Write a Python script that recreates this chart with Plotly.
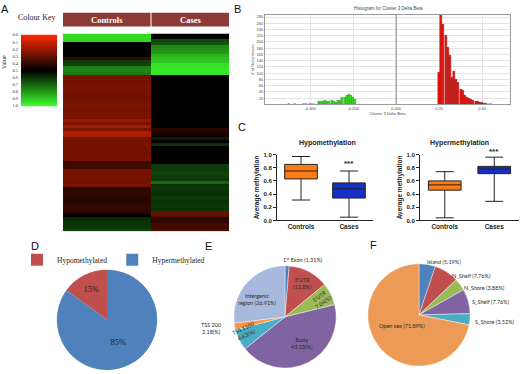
import plotly.graph_objects as go

W, H = 520, 374


def px(x):
    return x / W


def py(y):
    return 1 - y / H


SANS = "Liberation Sans"
SERIF = "Liberation Serif"

# ---------------- Panel A : heatmap (0 = red, 0.5 = black, 1 = green) ----------------
heat_columns = ["Controls", "Cases"]
controls_rows = ([0.93, 0.93, 0.92] + [0.5, 0.5, 0.49, 0.5, 0.5] + [0.4] + [0.62, 0.63] + [0.75, 0.76, 0.74]
                 + [0.27, 0.27, 0.28, 0.27, 0.26, 0.27, 0.27, 0.28, 0.27, 0.27, 0.26, 0.27, 0.27, 0.27, 0.26]
                 + [0.2, 0.27, 0.17, 0.26, 0.16, 0.16]
                 + [0.27, 0.27, 0.26, 0.27, 0.27, 0.28, 0.27, 0.27] + [0.38, 0.37, 0.38]
                 + [0.27, 0.27, 0.26, 0.27, 0.27, 0.27]
                 + [0.42, 0.41, 0.4, 0.42, 0.43, 0.41, 0.4, 0.41, 0.42] + [0.5] + [0.58, 0.6, 0.6, 0.61, 0.62])
cases_rows = ([0.5, 0.5] + [0.64, 0.66] + [0.77, 0.78, 0.8] + [0.86, 0.88, 0.89] + [0.94, 0.95, 0.96, 0.95]
              + [0.5] * 18 + [0.42] + [0.45, 0.46] + [0.56, 0.5, 0.6] + [0.5] * 6
              + [0.62, 0.61, 0.62, 0.63, 0.62, 0.61] + [0.7]
              + [0.6, 0.61, 0.6, 0.59, 0.61, 0.6, 0.6, 0.61, 0.6] + [0.3, 0.31] + [0.42, 0.41] + [0.36, 0.37, 0.36])
probe_rows = list(range(len(controls_rows)))
key_ticks = [0.0, 0.1, 0.2, 0.3, 0.4, 0.5, 0.6, 0.7, 0.8, 0.9, 1.0]
key_levels = [i / 100 for i in range(101)]

# ---------------- Panel B : histogram of delta beta ----------------
green_bins = [-0.36, -0.35, -0.34, -0.33, -0.32, -0.31, -0.30, -0.29, -0.28, -0.27, -0.26, -0.25,
              -0.24, -0.23, -0.22, -0.21, -0.20, -0.19]
green_counts = [8, 10, 10, 11, 9, 10, 11, 9, 6, 12, 13, 21, 23, 27, 33, 28, 21, 14]
red_bins = [0.20, 0.21, 0.22, 0.23, 0.24, 0.25, 0.26, 0.27, 0.28, 0.29, 0.30, 0.31, 0.32, 0.33,
            0.34, 0.35, 0.36, 0.37, 0.38, 0.39, 0.40, 0.41, 0.42]
red_counts = [102, 295, 257, 220, 181, 158, 85, 105, 79, 69, 48, 43, 27, 22, 19, 15, 11, 9, 8, 6, 5, 4, 3]
tail_bins = [-0.50, -0.49, -0.47, -0.44, -0.43, -0.42, -0.40, -0.39, -0.38, 0.43, 0.44, 0.46]
tail_counts = [2, 1, 2, 1, 2, 2, 2, 3, 2, 2, 2, 1]
hist_xticks = [-0.4, -0.2, 0.0, 0.2, 0.4]
hist_xticktext = ["-0.400", "-0.200", "0.000", "0.20", "0.40"]
hist_yticks = [20, 40, 60, 80, 100, 120, 140, 160, 180, 200, 220, 240, 260, 280]

# ---------------- Panel C : box plots ----------------
box_groups = ["Controls", "Cases"]
hypo_q1 = [0.63, 0.34]
hypo_med = [0.75, 0.48]
hypo_q3 = [0.85, 0.57]
hypo_lo = [0.31, 0.05]
hypo_hi = [0.97, 0.75]
hyper_q1 = [0.46, 0.71]
hyper_med = [0.54, 0.78]
hyper_q3 = [0.60, 0.82]
hyper_lo = [0.04, 0.29]
hyper_hi = [0.74, 0.96]
box_ticks = [0.0, 0.2, 0.4, 0.6, 0.8, 1.0]

# ---------------- Panels D, E, F : pies ----------------
d_labels = ["Hypomethylated", "Hypermethylated"]
d_values = [15, 85]
e_labels = ["1st Exon", "3'UTR", "5'UTR", "Body", "TSS 1500", "TSS 200", "Intergenic region"]
e_values = [1.31, 12.8, 7.04, 43.13, 6.63, 2.18, 26.91]
e_text = ["1<sup>st</sup> Exon (1.31%)", "3'UTR<br>(12.8%)", "5'UTR<br>7.04(%)", "Body<br>43.13(%)",
          "TSS 1500<br>6.63(%)", "TSS 200<br>2.18(%)", "Intergenic<br>region (26.91%)"]
f_labels = ["Island", "N_Shelf", "N_Shore", "S_Shelf", "S_Shore", "Open sea"]
f_values = [5.19, 7.76, 3.88, 7.76, 3.52, 71.89]

office = ["#4f81bd", "#c0504d", "#9bbb59", "#8064a2", "#4bacc6", "#f79646", "#a7badd"]

fig = go.Figure()

# heatmap columns
hm_scale = [[0, "#ff2a00"], [0.5, "#000000"], [1, "#3cff2a"]]
fig.add_trace(go.Heatmap(z=[[v] for v in controls_rows], x=[heat_columns[0]], y=probe_rows,
                         colorscale=hm_scale, zmin=0, zmax=1, showscale=False,
                         xaxis="x", yaxis="y", hoverinfo="skip"))
fig.add_trace(go.Heatmap(z=[[v] for v in cases_rows], x=[heat_columns[1]], y=probe_rows,
                         colorscale=hm_scale, zmin=0, zmax=1, showscale=False,
                         xaxis="x2", yaxis="y", hoverinfo="skip"))
# colour key
fig.add_trace(go.Heatmap(z=[[v] for v in key_levels], x=[0], y=key_levels,
                         colorscale=hm_scale, zmin=0, zmax=1, showscale=False,
                         xaxis="x3", yaxis="y3", hoverinfo="skip"))

# histogram
fig.add_trace(go.Bar(x=green_bins, y=green_counts, width=0.0095, xaxis="x4", yaxis="y4",
                     marker=dict(color="#3ee02a", line=dict(color="#1a7a10", width=0.4)), showlegend=False))
fig.add_trace(go.Bar(x=red_bins, y=red_counts, width=0.0095, xaxis="x4", yaxis="y4",
                     marker=dict(color="#e8190f", line=dict(color="#8a0000", width=0.4)), showlegend=False))
fig.add_trace(go.Bar(x=tail_bins, y=tail_counts, width=0.008, xaxis="x4", yaxis="y4",
                     marker=dict(color="#222222"), showlegend=False))

# box plots
box_colors = ["#fb7d14", "#1530c8"]
for i, g in enumerate(box_groups):
    fig.add_trace(go.Box(x=[g], q1=[hypo_q1[i]], median=[hypo_med[i]], q3=[hypo_q3[i]],
                         lowerfence=[hypo_lo[i]], upperfence=[hypo_hi[i]],
                         fillcolor=box_colors[i], line=dict(color="#222222", width=1),
                         width=0.68, whiskerwidth=0.55, xaxis="x5", yaxis="y5", showlegend=False))
    fig.add_trace(go.Box(x=[g], q1=[hyper_q1[i]], median=[hyper_med[i]], q3=[hyper_q3[i]],
                         lowerfence=[hyper_lo[i]], upperfence=[hyper_hi[i]],
                         fillcolor=box_colors[i], line=dict(color="#222222", width=1),
                         width=0.66, whiskerwidth=0.55, xaxis="x6", yaxis="y6", showlegend=False))

# pies
fig.add_trace(go.Pie(labels=d_labels, values=d_values, sort=False, direction="clockwise",
                     rotation=-360 * d_values[0] / sum(d_values),
                     marker=dict(colors=["#c0504d", "#4f81bd"]),
                     textinfo="percent", texttemplate="%{percent:.0%}", textposition="inside",
                     insidetextorientation="horizontal",
                     textfont=dict(family=SERIF, size=8.5, color="#222222"),
                     domain=dict(x=[px(55), px(159)], y=[py(373), py(271)]), showlegend=True))
fig.add_trace(go.Pie(labels=e_labels, values=e_values, sort=False, direction="clockwise",
                     marker=dict(colors=office, line=dict(color="white", width=0.4)), textinfo="none",
                     domain=dict(x=[px(233), px(337)], y=[py(371), py(267)]), showlegend=False))
fig.add_trace(go.Pie(labels=f_labels, values=f_values, sort=False, direction="clockwise",
                     marker=dict(colors=office[:5] + ["#ec9a55"], line=dict(color="white", width=0.4)),
                     textinfo="none",
                     domain=dict(x=[px(367), px(471)], y=[py(369), py(265)]), showlegend=False))

annotations = []


def ann(text, x, y, size, family=SANS, color="#222222", weight="normal", xanchor="center",
        angle=0, xref="paper", yref="paper"):
    annotations.append(dict(text=text, x=x, y=y, xref=xref, yref=yref, showarrow=False,
                            xanchor=xanchor, yanchor="middle", textangle=angle,
                            font=dict(family=family, size=size, color=color, weight=weight)))


# panel letters
for letter, lx, ly in [("A", 5, 6), ("B", 237, 6), ("C", 242, 126), ("D", 35, 247), ("E", 208, 247),
                       ("F", 373, 246)]:
    ann(letter, px(lx), py(ly), 11, color="#111111")

# panel A texts
ann("Colour Key", px(37), py(15), 8, family=SERIF)
ann("Value", px(4), py(60), 6, family=SERIF, angle=-90)
ann(heat_columns[0], px(107), py(17), 8.5, family=SERIF, color="white", weight="bold")
ann(heat_columns[1], px(190), py(17), 8.5, family=SERIF, color="white", weight="bold")

# panel B title
ann("Histogram for Cluster 3 Delta Beta", px(388), py(6), 4.5, color="#444444")

# panel C titles and stars
ann("Hypomethylation", px(327), py(142), 7, weight="bold")
ann("Hypermethylation", px(459), py(142), 7, weight="bold")
ann("***", 0.75, 0.86, 8, weight="bold", xref="x5 domain", yref="y5 domain")
ann("***", 0.75, 1.04, 8, weight="bold", xref="x6 domain", yref="y6 domain")

# panel E labels
e_pos = [(303, 261, 0), (302, 285, 0), (321, 301, -35), (302, 346, 0), (245, 334, -25), (211, 331, 0),
         (257, 301, 0)]
for t, (ex, ey, ea) in zip(e_text, e_pos):
    ann(t, px(ex), py(ey), 5.5, family="Lato", color="#2b2b2b", angle=ea)

# panel F labels
f_pos = [(425, 263), (450, 277), (462, 290), (470, 304), (473, 324)]
for name, val, (fx, fy) in zip(f_labels[:5], f_values[:5], f_pos):
    ann(f"{name} ({val:.2f}%)", px(fx), py(fy), 5.5, family="Lato", color="#2b2b2b", xanchor="left")
ann(f"{f_labels[5]} ({f_values[5]:.2f}%)", px(402), py(328), 5.5, family="Lato", color="#2b2b2b")

shapes = [
    dict(type="rect", xref="paper", yref="paper", x0=px(63), x1=px(150.5), y0=py(24), y1=py(10),
         fillcolor="#8b3a35", line=dict(width=0)),
    dict(type="rect", xref="paper", yref="paper", x0=px(151.5), x1=px(229), y0=py(24), y1=py(10),
         fillcolor="#8b3a35", line=dict(width=0)),
    dict(type="line", xref="x4", yref="y4 domain", x0=0, x1=0, y0=0, y1=1,
         line=dict(color="#8a8a8a", width=1)),
]

hidden = dict(visible=False)
box_x = dict(type="category", range=[-0.5, 1.5], showline=True, linecolor="#222222", linewidth=1,
             ticks="", showgrid=False, zeroline=False,
             tickfont=dict(family=SANS, size=6.5, color="#222222", weight="bold"))


def box_y(anchor):
    return dict(range=[0, 1.0], tickvals=box_ticks, ticktext=[f"{v:.1f}" for v in box_ticks],
                ticks="outside", ticklen=3, tickwidth=1, tickcolor="#222222",
                showline=True, linecolor="#222222", linewidth=1, showgrid=False, zeroline=False,
                tickfont=dict(family=SANS, size=6, color="#222222", weight="bold"),
                title=dict(text="Average methylation", standoff=3,
                           font=dict(family=SANS, size=6.5, color="#222222", weight="bold")),
                anchor=anchor)


fig.update_layout(
    width=W, height=H, margin=dict(l=0, r=0, t=0, b=0),
    paper_bgcolor="white", plot_bgcolor="white",
    font=dict(family=SANS, color="#222222"),
    barmode="overlay", bargap=0,
    xaxis=dict(domain=[px(63), px(151)], anchor="y", **hidden),
    xaxis2=dict(domain=[px(151), px(229)], anchor="y", **hidden),
    yaxis=dict(domain=[py(232), py(31)], anchor="x", autorange="reversed", **hidden),
    xaxis3=dict(domain=[px(21), px(57)], anchor="y3", **hidden),
    yaxis3=dict(domain=[py(105), py(32)], anchor="x3", range=[1.006, -0.006], tickvals=key_ticks,
                ticktext=[f"{v:.1f}" for v in key_ticks], ticks="", showgrid=False, zeroline=False,
                showline=False, tickfont=dict(family=SERIF, size=4.5, color="#333333"), ticklabelstandoff=2),
    xaxis4=dict(domain=[px(265), px(510)], anchor="y4", range=[-0.61, 0.53], tickvals=hist_xticks,
                ticktext=hist_xticktext, showgrid=True, gridcolor="#e4e4e4", zeroline=False,
                showline=True, linecolor="#9a9a9a", mirror=True, ticks="",
                tickfont=dict(size=4, color="#444444"),
                title=dict(text="Cluster 3 Delta Beta", standoff=1, font=dict(size=4, color="#444444"))),
    yaxis4=dict(domain=[py(103), py(11.7)], anchor="x4", range=[0, 288], tickvals=hist_yticks,
                showgrid=True, gridcolor="#e4e4e4", zeroline=False, showline=True, linecolor="#9a9a9a",
                mirror=True, ticks="", tickfont=dict(size=4, color="#444444"),
                title=dict(text="# of Occurrences", standoff=2, font=dict(size=4, color="#444444"))),
    xaxis5=dict(domain=[px(277), px(373)], anchor="y5", **box_x),
    yaxis5=dict(domain=[py(221), py(154)], **box_y("x5")),
    xaxis6=dict(domain=[px(420), px(519)], anchor="y6", **box_x),
    yaxis6=dict(domain=[py(221), py(154)], **box_y("x6")),
    legend=dict(orientation="h", x=px(17), y=py(261), xanchor="left", yanchor="middle",
                font=dict(family=SERIF, size=7.5, color="#222222"), itemwidth=30,
                bgcolor="rgba(0,0,0,0)", traceorder="normal"),
    annotations=annotations,
    shapes=shapes,
)

fig.write_html("out.html", config={"displayModeBar": False},
               post_script="document.body.style.margin='0';document.body.style.overflow='hidden';")
